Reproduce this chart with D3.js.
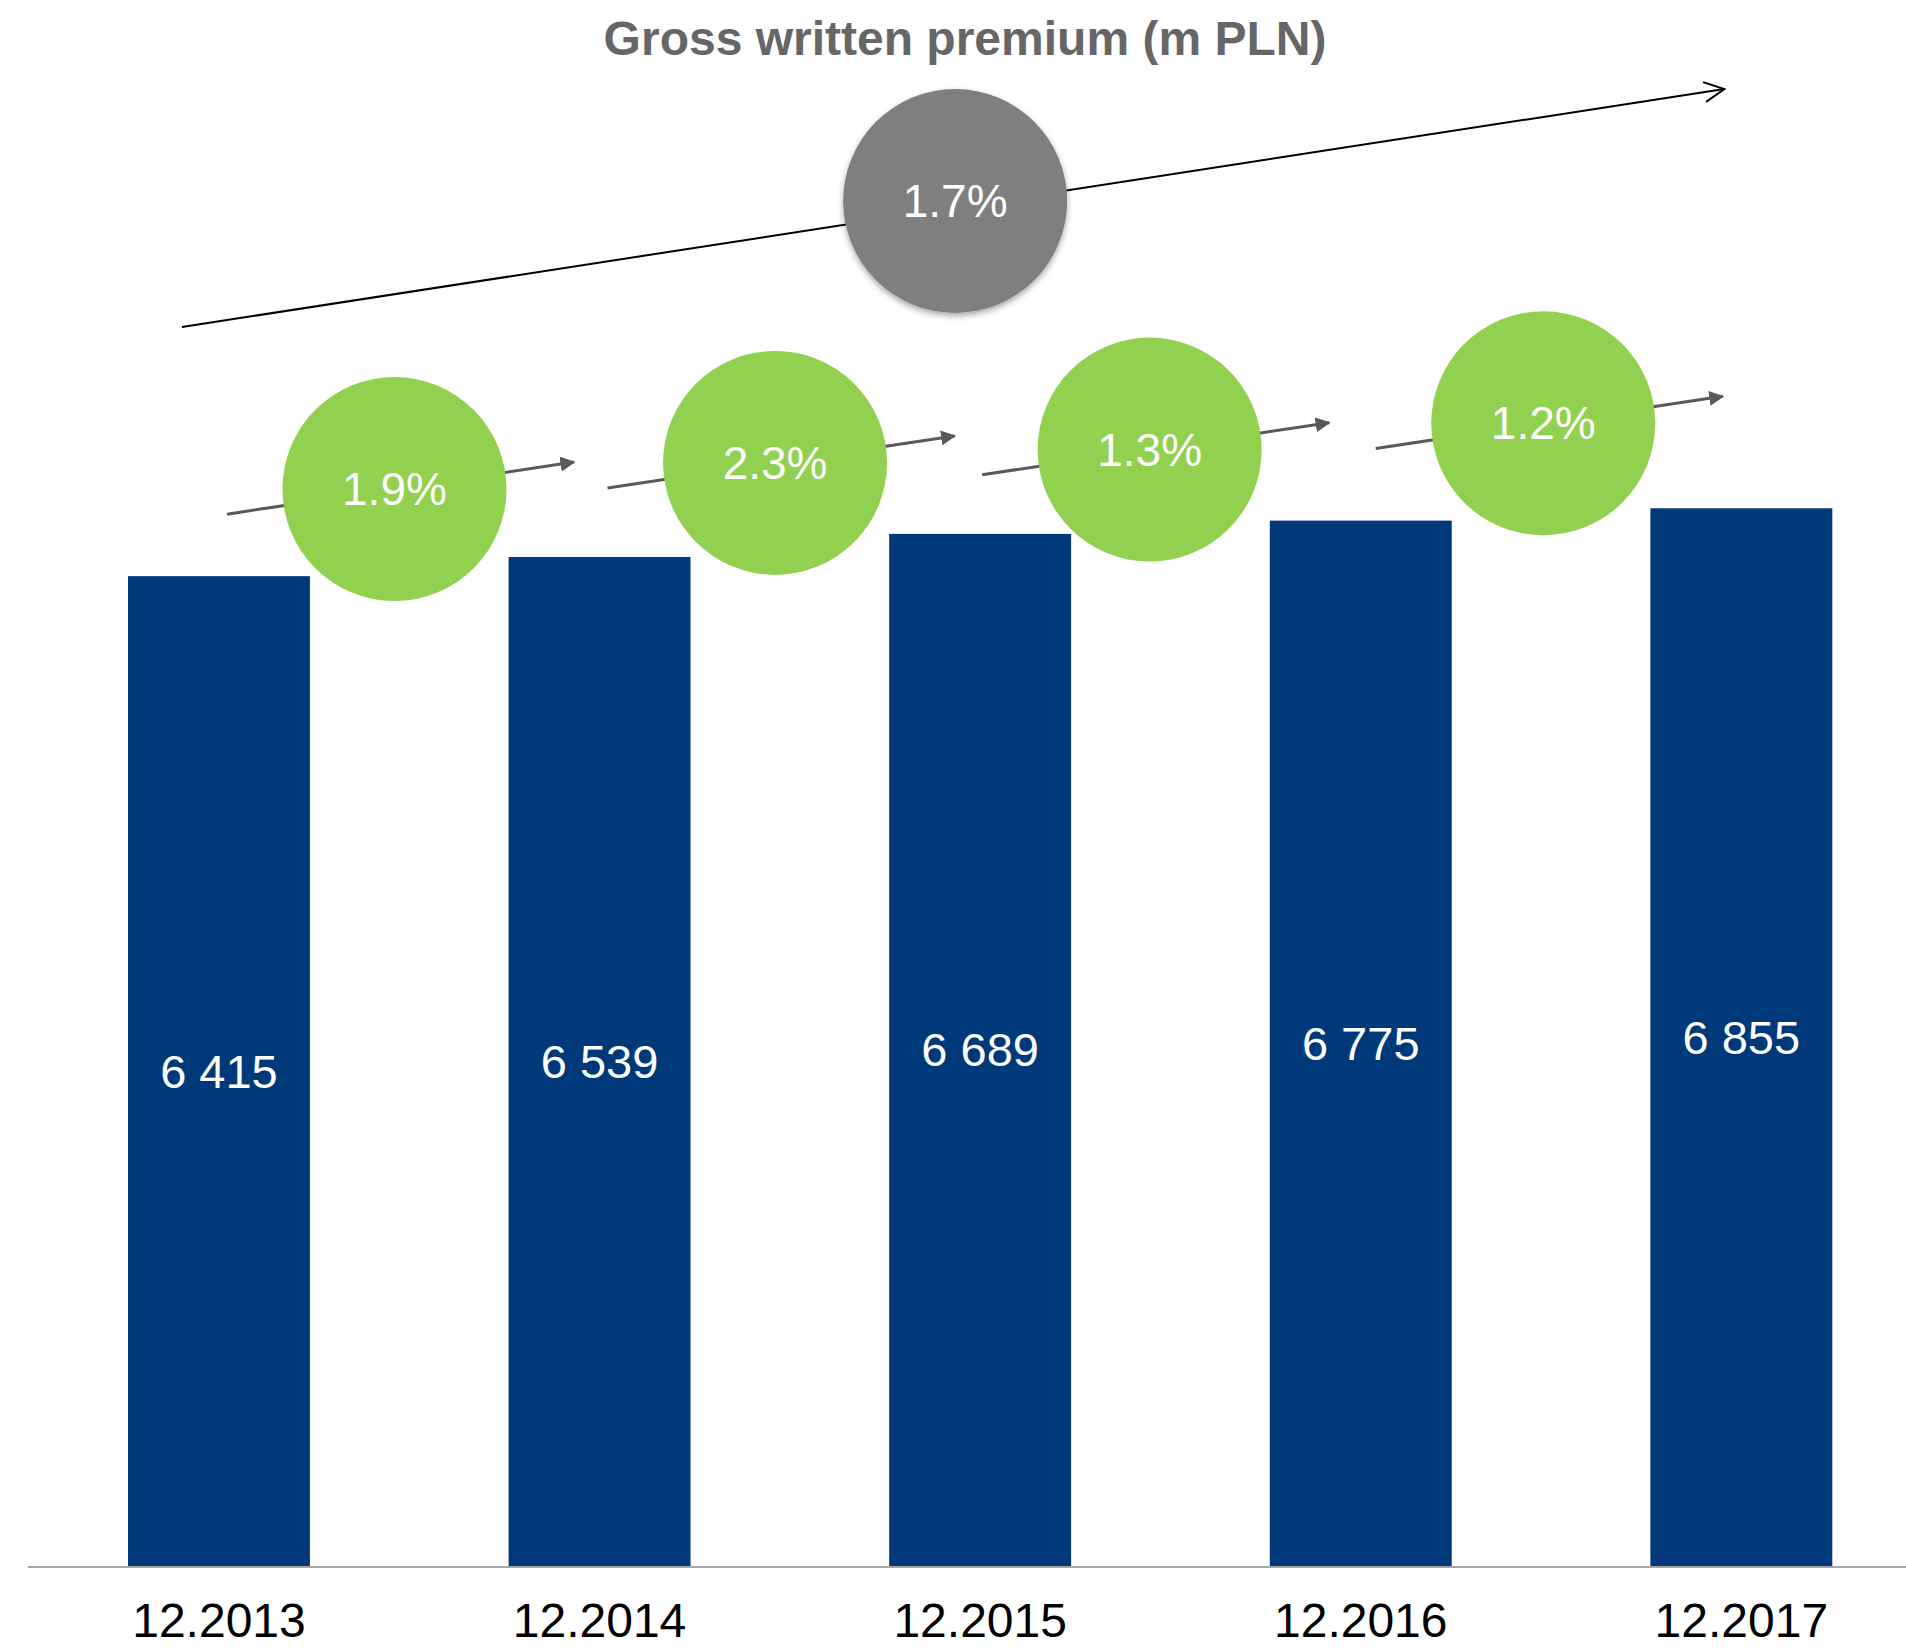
<!DOCTYPE html>
<html>
<head>
<meta charset="utf-8">
<script src="https://cdn.jsdelivr.net/npm/d3@7"></script>
<style>
  body { margin: 0; background: #fff; }
  svg { display: block; font-family: "Liberation Sans", Arial, sans-serif; }
</style>
</head>
<body>
<svg id="chart" width="1906" height="1648"></svg>
<script>
const categories = ['12.2013', '12.2014', '12.2015', '12.2016', '12.2017']
const values = [6415, 6539, 6689, 6775, 6855]
const growth = ['1.9%', '2.3%', '1.3%', '1.2%']
const cagr = '1.7%'
const title = 'Gross written premium (m PLN)'

// 气泡的手动微调（px）
const arrowShift = [8, 8, 2, 15]
const bubbleLift = [68, 71, 71, 85]

const W = 1906
const baseY = 1566

const svg = d3.select('#chart')

// 阴影 / 箭头
const defs = svg.append('defs')
defs.append('filter')
  .attr('id', 'shadow')
  .attr('x', '-20%').attr('y', '-20%')
  .attr('width', '140%').attr('height', '140%')
  .append('feDropShadow')
  .attr('dx', 0).attr('dy', 3)
  .attr('stdDeviation', 3)
  .attr('flood-color', '#000')
  .attr('flood-opacity', 0.35)

defs.append('marker')
  .attr('id', 'tri')
  .attr('viewBox', '0 0 10 10')
  .attr('refX', 9).attr('refY', 5)
  .attr('markerWidth', 5).attr('markerHeight', 5)
  .attr('markerUnits', 'strokeWidth')
  .attr('orient', 'auto')
  .append('path')
  .attr('d', 'M0,0 L10,5 L0,10 Z')
  .attr('fill', '#595959')

defs.append('marker')
  .attr('id', 'open')
  .attr('viewBox', '0 0 12 12')
  .attr('refX', 11).attr('refY', 6)
  .attr('markerWidth', 12).attr('markerHeight', 12)
  .attr('markerUnits', 'strokeWidth')
  .attr('orient', 'auto')
  .append('path')
  .attr('d', 'M1,1 L11,6 L1,11')
  .attr('fill', 'none')
  .attr('stroke', '#000')
  .attr('stroke-width', 1)

const x = d3.scaleBand()
  .domain(categories)
  .range([128, 1832.3])
  .paddingInner(0.522)
  .paddingOuter(0)

const y = d3.scaleLinear()
  .domain([0, 10000])
  .range([baseY, baseY - 1543])

const cx = c => x(c) + x.bandwidth() / 2

// 标题
svg.append('text')
  .attr('x', 965)
  .attr('y', 55)
  .attr('text-anchor', 'middle')
  .attr('font-size', 48)
  .attr('font-weight', 'bold')
  .attr('fill', '#666666')
  .text(title)

// 柱子
svg.append('g').attr('class', 'bars')
  .selectAll('rect')
  .data(values)
  .join('rect')
  .attr('x', (d, i) => x(categories[i]))
  .attr('y', d => y(d))
  .attr('width', x.bandwidth())
  .attr('height', d => baseY - y(d))
  .attr('fill', '#00397a')

svg.append('g').attr('class', 'values')
  .selectAll('text')
  .data(values)
  .join('text')
  .attr('x', (d, i) => cx(categories[i]))
  .attr('y', d => (y(d) + baseY) / 2)
  .attr('dy', '0.35em')
  .attr('text-anchor', 'middle')
  .attr('font-size', 47)
  .attr('fill', '#fff')
  .text(d => d3.format(',')(d).replace(',', ' '))

// x轴
const xaxis = svg.append('g')
  .attr('class', 'xaxis')
  .attr('transform', `translate(0,${baseY})`)
  .call(d3.axisBottom(x).tickSize(0).tickPadding(37))
xaxis.select('.domain').remove()
xaxis.selectAll('text')
  .attr('font-size', 48)
  .attr('font-family', '"Liberation Sans", Arial, sans-serif')
  .attr('fill', '#000')
svg.append('line')
  .attr('x1', 28).attr('x2', W)
  .attr('y1', baseY + 1).attr('y2', baseY + 1)
  .attr('stroke', '#a6a6a6')
  .attr('stroke-width', 2)

// 年增长
const slope = -0.15
const growthData = growth.map((g, i) => {
  const x0 = cx(categories[i]) + arrowShift[i]
  const x1 = x0 + 347
  const ccx = (x0 + x1) / 2 - 6
  const ccy = y(values[i + 1]) - bubbleLift[i]
  return { g, x0, x1, ccx, ccy }
})

const gg = svg.append('g').attr('class', 'growth')
gg.selectAll('line')
  .data(growthData)
  .join('line')
  .attr('x1', d => d.x0)
  .attr('y1', d => d.ccy + (d.x0 - d.ccx) * slope)
  .attr('x2', d => d.x1)
  .attr('y2', d => d.ccy + (d.x1 - d.ccx) * slope)
  .attr('stroke', '#595959')
  .attr('stroke-width', 3)
  .attr('marker-end', 'url(#tri)')
gg.selectAll('circle')
  .data(growthData)
  .join('circle')
  .attr('cx', d => d.ccx)
  .attr('cy', d => d.ccy)
  .attr('r', 112)
  .attr('fill', '#92d050')
gg.selectAll('text')
  .data(growthData)
  .join('text')
  .attr('x', d => d.ccx)
  .attr('y', d => d.ccy)
  .attr('dy', '0.35em')
  .attr('text-anchor', 'middle')
  .attr('font-size', 46)
  .attr('fill', '#fff')
  .text(d => d.g)

// 总体增长
const bx0 = cx(categories[0]) - 37
const bx1 = cx(categories[categories.length - 1]) - 17
svg.append('line')
  .attr('x1', bx0).attr('y1', 327)
  .attr('x2', bx1).attr('y2', 89)
  .attr('stroke', '#000')
  .attr('stroke-width', 2)
  .attr('marker-end', 'url(#open)')
const gcx = cx(categories[2]) - 25
svg.append('circle')
  .attr('cx', gcx).attr('cy', 201)
  .attr('r', 112)
  .attr('fill', '#7f7f7f')
  .attr('filter', 'url(#shadow)')
svg.append('text')
  .attr('x', gcx).attr('y', 201)
  .attr('dy', '0.35em')
  .attr('text-anchor', 'middle')
  .attr('font-size', 46)
  .attr('fill', '#fff')
  .text(cagr)
</script>
</body>
</html>
